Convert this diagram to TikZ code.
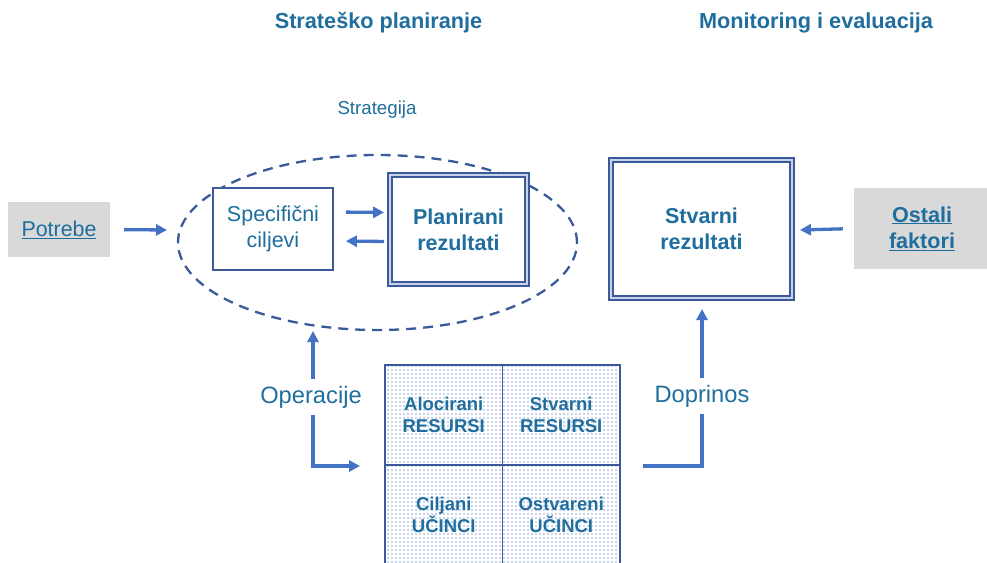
\documentclass[tikz,border=0pt]{standalone}
\usepackage{fontspec}
\setmainfont{Liberation Sans}
\usetikzlibrary{arrows.meta,shapes.geometric,patterns.meta}
\definecolor{txt}{HTML}{1F6E9E}
\definecolor{arrc}{HTML}{4472C4}
\definecolor{bord}{HTML}{3A5A9C}
\definecolor{dbl}{HTML}{C9D3E8}
\definecolor{grayfill}{HTML}{D9D9D9}
\definecolor{dotc}{HTML}{8EA8D8}
\tikzdeclarepattern{name=mydots, type=uncolored,
  bottom left={(-1pt,-1pt)}, top right={(3pt,3pt)}, tile size={(4pt,4pt)},
  code={\fill (0pt,0pt) circle (0.9pt);}}
\newcommand{\fs}[1]{\fontsize{#1}{1.22\dimexpr#1pt\relax}\selectfont}
\begin{document}
\begin{tikzpicture}[x=1pt,y=-1pt,
  every node/.style={text=txt, align=center},
  title/.style={font=\fs{21.7}\bfseries},
  arr/.style={line width=3.3pt, draw=arrc, -{Triangle[length=11pt,width=11pt]}},
  plain/.style={line width=3.3pt, draw=arrc},
  graybox/.style={fill=grayfill, minimum width=102pt, minimum height=55pt, inner sep=0pt},
  singlebox/.style={draw=bord, line width=1.7pt, fill=white, inner sep=0pt},
  dblbox/.style={draw=bord, line width=1.8pt, double=dbl, double distance=1.8pt, fill=white, inner sep=0pt},
  cell/.style={draw=bord, line width=1.6pt, pattern={mydots}, pattern color=dotc,
    minimum width=117.5pt, minimum height=100pt, inner sep=0pt, font=\fs{18.5}\bfseries},
  lbl/.style={font=\fs{23.7}, inner xsep=2pt, inner ysep=7pt}
]
\useasboundingbox (0,0) rectangle (987,562);
\clip (0,0) rectangle (987,562);

% titles
\node[title] (t1) at (378.5,23) {Strateško planiranje};
\node[title] (t2) at (816,23) {Monitoring i evaluacija};

% strategy ellipse
\node[draw=bord, dashed, dash pattern=on 10pt off 7pt, line width=2.3pt, ellipse,
      minimum width=399pt, minimum height=175pt, inner sep=0pt] (strat) at (377.5,242.5) {};
\node[font=\fs{18.7}] (stlbl) at (377,110) {Strategija};

% boxes
\node[graybox, font=\fs{21.4}] (pot) at (59,229.5) {\underline{Potrebe}};
\node[singlebox, minimum width=120pt, minimum height=82pt, font=\fs{21.5}] (spec) at (273,229) {Specifični\\ciljevi};
\node[dblbox, minimum width=137pt, minimum height=109pt, font=\fs{21.5}\bfseries] (plan) at (458.5,229.5) {Planirani\\rezultati};
\node[dblbox, minimum width=181pt, minimum height=138pt, font=\fs{21.5}\bfseries] (stv) at (701.5,229) {Stvarni\\rezultati};
\node[graybox, minimum width=136pt, minimum height=81pt, font=\fs{21.6}\bfseries] (ost) at (922,228.5) {\underline{Ostali}\\\underline{faktori}};

% grid
\node[cell] (c11) at (443.75,415) {Alocirani\\RESURSI};
\node[cell] (c12) at (561.25,415) {Stvarni\\RESURSI};
\node[cell] (c21) at (443.75,515) {Ciljani\\UČINCI};
\node[cell] (c22) at (561.25,515) {Ostvareni\\UČINCI};

% labels on connectors
\node[lbl] (op) at (311,397) {Operacije};
\node[lbl] (dop) at (702,396) {Doprinos};

% coordinates for free ends
\coordinate (potend) at (167,230);
\coordinate (opup) at (313,331);
\coordinate (opend) at (360,466);
\coordinate (dopstart) at (643,466);
\coordinate (dopend) at (702,309);
\coordinate (ostend) at (800,230);

% connectors
\draw[arr, shorten <=14pt] (pot.east) -- (potend);
\draw[arr, shorten <=12pt, shorten >=5pt] ([yshift=17pt]spec.east) -- ([yshift=17pt]plan.west);
\draw[arr, shorten <=5pt, shorten >=12pt] ([yshift=-12pt]plan.west) -- ([yshift=-12pt]spec.east);
\draw[arr] (op.north -| opup) -- (opup);
\draw[arr] (op.south -| opup) |- (opend);
\draw[plain] (dopstart) -| (dop.south);
\draw[arr] (dop.north) -- (dopend);
\draw[arr, shorten <=11pt] (ost.west) -- (ostend);
\end{tikzpicture}
\end{document}
